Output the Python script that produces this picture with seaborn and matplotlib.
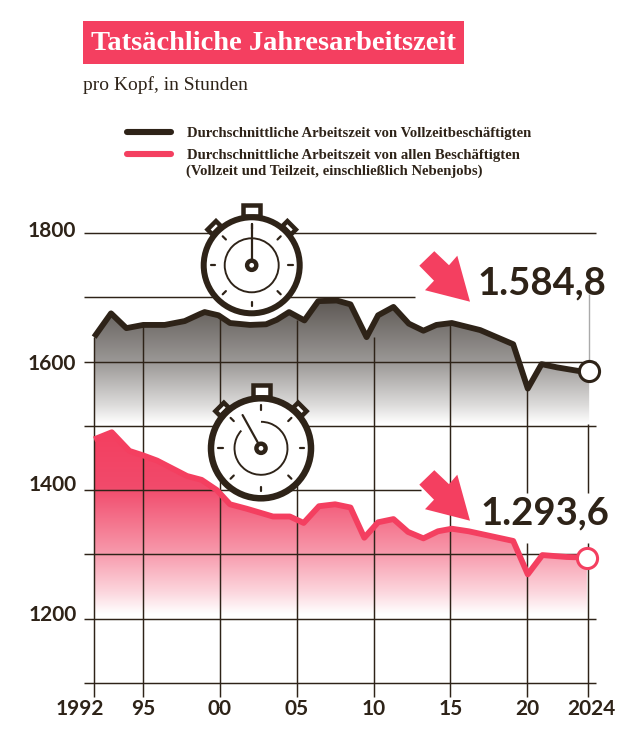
import numpy as np
import matplotlib
matplotlib.use("Agg")
import matplotlib.pyplot as plt
import seaborn as sns
from matplotlib import font_manager as fm
from matplotlib.colors import LinearSegmentedColormap
from matplotlib.lines import Line2D
from matplotlib.patches import Circle, Rectangle, Polygon, Arc
from matplotlib.transforms import Affine2D, ScaledTranslation

DARK = "#2e2318"
RED = "#f43f60"
SERIF = "Liberation Serif"

title = "Tatsächliche Jahresarbeitszeit"
subtitle = "pro Kopf, in Stunden"
label_full = "Durchschnittliche Arbeitszeit von Vollzeitbeschäftigten"
label_all_1 = "Durchschnittliche Arbeitszeit von allen Beschäftigten"
label_all_2 = "(Vollzeit und Teilzeit, einschließlich Nebenjobs)"
value_full_text = "1.584,8"
value_all_text = "1.293,6"

x_ticks = [1991.8, 1995, 2000, 2005, 2010, 2015, 2020, 2024]
x_tick_labels = ["1992", "95", "00", "05", "10", "15", "20", "2024"]
y_ticks = [1200, 1400, 1600, 1800]
y_tick_labels = ["1200", "1400", "1600", "1800"]

full_years = [1991.8, 1992.9, 1993.9, 1995.0, 1996.4, 1997.7, 1998.7, 1999.0, 1999.9, 2000.65,
              2001.95, 2003.0, 2003.7, 2004.5, 2005.5, 2006.4, 2007.6, 2008.5, 2009.55, 2010.3,
              2011.3, 2012.3, 2013.25, 2014.1, 2015.1, 2016.95, 2019.1, 2020.05, 2020.95, 2021.95,
              2023.45, 2024.05]
full_hours = [1638, 1675, 1652, 1657, 1657, 1663, 1674, 1677, 1672, 1660,
              1657, 1658, 1665, 1677, 1664, 1694, 1695, 1689, 1638, 1672,
              1685, 1659, 1648, 1657, 1660, 1649, 1627, 1558, 1596, 1591,
              1585, 1584.8]

all_years = [1991.8, 1992.95, 1994.1, 1995.0, 1995.9, 1997.85, 1998.8, 1999.8, 2000.65, 2001.75,
             2003.45, 2004.55, 2005.45, 2006.45, 2007.5, 2008.5, 2009.4, 2010.3, 2011.3, 2012.25,
             2013.25, 2014.2, 2015.1, 2016.2, 2019.1, 2020.05, 2021.0, 2022.6, 2023.9]
all_hours = [1479, 1490, 1461, 1454, 1446, 1422, 1416, 1400, 1378, 1371,
             1359, 1359, 1349, 1375, 1378, 1373, 1326, 1350, 1355, 1335,
             1325, 1336, 1340, 1336, 1321, 1269, 1299, 1296, 1295]

sns.set_theme(style="white")

# pick an installed humanist sans that really has a static bold face
SANS = "DejaVu Sans"
for fam in ["Lato", "Open Sans", "Roboto", "Noto Sans"]:
    weights = [f.weight for f in fm.fontManager.ttflist if f.name == fam]
    if any(w in ("bold", 700, "heavy", 800, "black", 900) for w in weights):
        SANS = fam
        break
plt.rcParams["font.family"] = [SANS, "DejaVu Sans"]

W, H = 640, 736
fig = plt.figure(figsize=(W / 100, H / 100), dpi=100, facecolor="white")
ax = fig.add_axes([84 / W, 1 - 683 / H, (596 - 84) / W, (683 - 233) / H])
X0, X1 = 2000 + (84 - 220) / 15.35, 2000 + (596 - 220) / 15.35
ax.set_xlim(X0, X1)
ax.set_ylim(1100, 1800)
for s in ax.spines.values():
    s.set_visible(False)
ax.set_facecolor("none")
px = Affine2D().scale(1, -1).translate(0, H)  # figure pixels, origin top-left


def gradient(years, hours, stops, top, bottom, z):
    cmap = LinearSegmentedColormap.from_list("g", stops)
    grad = np.linspace(0, 1, 256).reshape(-1, 1)
    im = ax.imshow(grad, cmap=cmap, aspect="auto", origin="upper",
                   extent=(X0, X1, bottom, top), zorder=z, vmin=0, vmax=1)
    poly = ax.fill_between(years, hours, bottom, color="none", lw=0)
    im.set_clip_path(poly.get_paths()[0], transform=ax.transData)


gradient(full_years, full_hours,
         [(0, "#5d5854"), (0.5, "#9b9896"), (0.85, "#dddcdb"), (1, "#ffffff")], 1695, 1503, 1)
gradient(all_years, all_hours,
         [(0, "#f43f60"), (0.3, "#f14a6b"), (0.65, "#f796a9"), (0.88, "#fcd6dd"), (1, "#ffffff")],
         1490, 1208, 1)
ax.set_xlim(X0, X1)
ax.set_ylim(1100, 1800)

# horizontal rules with their individual extents
for val, end in [(1800, 2024.5), (1700, 2012.7), (1600, 2024.5), (1500, 2024.5),
                 (1400, 2013.1), (1300, 2023.5), (1200, 2024.5), (1100, 2024.5)]:
    ax.hlines(val, X0, end, color=DARK, lw=1.05, zorder=2, clip_on=False)

# vertical rules: from the curve down to the axis
for yr, top_val in zip(x_ticks[:-2], [1638, 1657, 1672, 1664, 1638, 1660]):
    ax.vlines(yr, 1100, top_val, color=DARK, lw=1.05, zorder=2)
ax.vlines(2020, 1395, 1558, color=DARK, lw=1.05, zorder=2)
ax.vlines(2020, 1100, 1318, color=DARK, lw=1.05, zorder=2)
ax.vlines(2024, 1395, 1503, color=DARK, lw=1.05, zorder=2)
ax.vlines(2024, 1100, 1318, color=DARK, lw=1.05, zorder=2)
ax.vlines(2024.05, 1590, 1705, color="#aaaaaa", lw=1.0, zorder=2)

sns.lineplot(x=full_years, y=full_hours, ax=ax, color=DARK, lw=4.2, sort=False,
             estimator=None, zorder=4, solid_joinstyle="round", solid_capstyle="butt")
sns.lineplot(x=all_years, y=all_hours, ax=ax, color=RED, lw=4.2, sort=False,
             estimator=None, zorder=4, solid_joinstyle="round", solid_capstyle="butt")
ax.plot(full_years[-1], full_hours[-1], "o", ms=14.5, mfc="white", mec=DARK, mew=2.2, zorder=5, clip_on=False)
ax.plot(all_years[-1], all_hours[-1], "o", ms=14.5, mfc="white", mec=RED, mew=2.2, zorder=5, clip_on=False)

# ticks
ax.set_xticks(x_ticks, x_tick_labels, fontsize=15, fontweight="bold", color=DARK)
ax.tick_params(axis="x", length=10, width=1.05, color=DARK, pad=1.5, bottom=True)
ax.set_yticks(y_ticks, y_tick_labels, fontsize=15, fontweight="bold", color=DARK)
ax.tick_params(axis="y", length=0, pad=5.5, left=False)
ax.grid(False)
dpi_tr = fig.dpi_scale_trans
for lab, dy in zip(ax.get_yticklabels(), [6, 7, 0, 4]):
    lab.set_transform(lab.get_transform() + ScaledTranslation(0, dy / 100, dpi_tr))
xl = ax.get_xticklabels()
xl[0].set_transform(xl[0].get_transform() + ScaledTranslation(-14 / 100, 0, dpi_tr))
xl[-1].set_transform(xl[-1].get_transform() + ScaledTranslation(3 / 100, 0, dpi_tr))

# title block
fig.add_artist(Rectangle((83, 21), 381, 43, transform=px, fc=RED, ec="none"))
fig.text(91 / W, 1 - 43 / H, title, color="white", family=SERIF, weight="bold", fontsize=20.5, va="center")
fig.text(83 / W, 1 - 85.5 / H, subtitle, color=DARK, family=SERIF, fontsize=14, va="center")

# legend
h1 = Line2D([], [], color=DARK, lw=4.4, solid_capstyle="round")
h2 = Line2D([], [], color=RED, lw=4.4, solid_capstyle="round")
leg = fig.legend([h1, h2], [label_full, label_all_1],
                 loc="upper left", bbox_to_anchor=(127 / W, 1 - 127 / H), frameon=False,
                 borderaxespad=0, borderpad=0, handlelength=3.0, handletextpad=1.05,
                 labelspacing=0.56, prop={"family": SERIF, "weight": "bold", "size": 10.6},
                 labelcolor=DARK)
fig.text(186 / W, 1 - 171.5 / H, label_all_2, color=DARK, family=SERIF, weight="bold",
         fontsize=10.6, va="center")

# value labels
fig.text(477 / W, 1 - 283 / H, value_full_text, color=DARK, fontsize=27.5, fontweight="bold", va="center")
fig.text(480 / W, 1 - 513 / H, value_all_text, color=DARK, fontsize=27.5, fontweight="bold", va="center")


def arrow(tip_x, tip_y):
    off = np.array([(0, 0), (-45, -11.5), (-36, -21), (-50.7, -36), (-35.7, -50.5), (-21, -36.5), (-12.7, -46)])
    fig.add_artist(Polygon(off + (tip_x, tip_y), closed=True, transform=px, fc=RED, ec="none", zorder=3))


arrow(470, 301.7)
arrow(470, 520.7)


def watch(cx, cy, R, ring, angle_deg, hand, gap=None, crown_up=0):
    local = Affine2D().translate(cx, cy) + px

    def add(a):
        a.set_transform(local)
        a.set_zorder(6)
        fig.add_artist(a)

    lw = lambda p: p * 0.72
    add(Rectangle((-8.5, -R - 10 - crown_up), 17, 9 + crown_up, fc="white", ec=DARK, lw=lw(4.5)))
    add(Rectangle((-5, -R - 2), 10, 5, fc=DARK, ec=DARK, lw=0))
    for sgn in (-1, 1):
        a = np.radians(45)
        ca, sa = np.cos(a), np.sin(a)
        cxb, cyb = sgn * (R + 5) * sa, -(R + 5) * ca
        pts = np.array([(-6, -3.5), (6, -3.5), (6, 3.5), (-6, 3.5)], float)
        rot = np.array([[ca, sgn * sa], [-sgn * sa, ca]])
        pts = pts @ rot + (cxb, cyb)
        add(Polygon(pts, closed=True, fc="white", ec=DARK, lw=lw(4.5)))
    add(Circle((0, 0), R, fc="white", ec=DARK, lw=lw(ring)))
    for i in range(8):
        a = np.radians(i * 45)
        r0, r1 = R - 11.5, R - 7
        add(Line2D([r0 * np.sin(a), r1 * np.sin(a)], [-r0 * np.cos(a), -r1 * np.cos(a)],
                   color=DARK, lw=lw(2.2)))
    if gap is None:
        add(Circle((0, 0), 27, fc="none", ec=DARK, lw=lw(1.9)))
    else:
        add(Arc((0, 0), 53, 53, theta1=gap[0], theta2=gap[1], ec=DARK, lw=lw(1.9)))
    h = np.radians(angle_deg)
    add(Line2D([0, hand * np.sin(h)], [0, -hand * np.cos(h)], color=DARK, lw=lw(2.2)))
    add(Circle((0, 0), 4.6, fc="white", ec=DARK, lw=lw(4.4)))


watch(251.7, 265.3, 48, 6, 0, 41, crown_up=2)
watch(261, 448.3, 50, 6.5, -29, 38, gap=(-90, 222), crown_up=3)

fig.savefig("out.png", dpi=100)
